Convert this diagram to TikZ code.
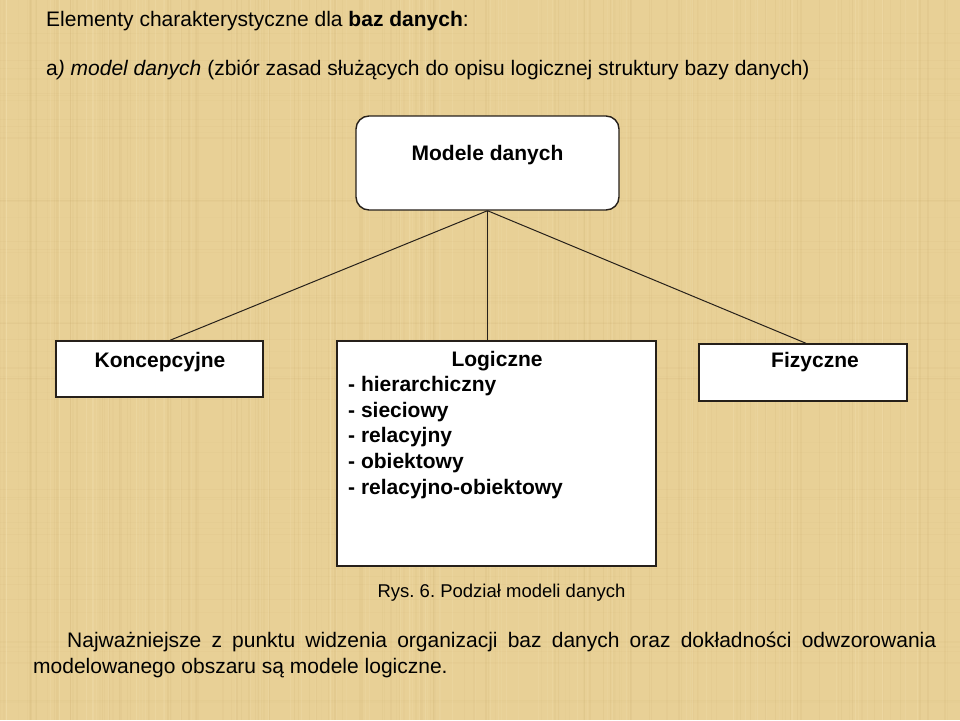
\documentclass[tikz,border=0pt]{standalone}
\usepackage{fontspec}
\setmainfont{Liberation Sans}
\usetikzlibrary{calc, positioning}
\frenchspacing

\definecolor{papyrus}{RGB}{232,208,150}
\definecolor{papyrusdark}{RGB}{198,168,104}
\definecolor{papyruslight}{RGB}{246,230,186}
\definecolor{edge}{RGB}{38,32,26}

\tikzset{
  box/.style={draw=edge, line width=1.4pt, fill=white, inner sep=0pt},
  link/.style={draw=edge, line width=1pt},
  txt/.style={inner sep=0pt, font=\fontsize{21pt}{25.6pt}\selectfont},
  bold/.style={inner sep=0pt, font=\fontsize{21pt}{25.6pt}\selectfont\bfseries},
}

\begin{document}
\begin{tikzpicture}[x=1pt, y=-1pt]
\fill[papyrus] (0,0) rectangle (960,720);
\useasboundingbox (0,0) rectangle (960,720);

% papyrus fibres
\pgfmathsetseed{7}
\foreach \i in {1,...,140} {
  \pgfmathsetmacro{\xx}{rnd*960}
  \pgfmathsetmacro{\op}{0.04+rnd*0.10}
  \draw[papyrusdark, opacity=\op, line width=1.3pt] (\xx,0) -- (\xx,720);
}
\foreach \i in {1,...,60} {
  \pgfmathsetmacro{\yy}{rnd*720}
  \pgfmathsetmacro{\op}{0.03+rnd*0.06}
  \draw[papyrusdark, opacity=\op, line width=1.2pt] (0,\yy) -- (960,\yy);
}
\foreach \i in {1,...,80} {
  \pgfmathsetmacro{\xx}{rnd*960}
  \pgfmathsetmacro{\op}{0.10+rnd*0.20}
  \draw[papyruslight, opacity=\op, line width=1pt] (\xx,0) -- (\xx,720);
}

% header
\node[txt, anchor=base west] (title) at (46,26) {Elementy charakterystyczne dla \textbf{baz danych}:};
\node[txt, anchor=base west] (sub) at (46,75) {a\textit{) model danych} (zbiór zasad służących do opisu logicznej struktury bazy danych)};

% boxes
\node[box, rounded corners=13pt, minimum width=263pt, minimum height=94pt] (modele) at (487.5,163) {};
\node[bold, anchor=base] (modeleT) at (487.5,160.5) {Modele danych};

\node[box, minimum width=207pt, minimum height=56pt] (konc) at (159.5,369) {};
\node[bold, anchor=base] (koncT) at (160,367.5) {Koncepcyjne};

\node[box, minimum width=319pt, minimum height=225pt] (logic) at (496.5,453.5) {};
\node[bold, anchor=base] (logicT) at (497,366) {Logiczne};
\foreach \item [count=\k] in {hierarchiczny, sieciowy, relacyjny, obiektowy, relacyjno-obiektowy}
  \node[bold, anchor=base west] (item\k) at (348,366+25.6*\k) {- \item};

\node[box, minimum width=208pt, minimum height=57pt] (fiz) at (803,372.5) {};
\node[bold, anchor=base] (fizT) at (815,367.5) {Fizyczne};

% connectors
\draw[link] (modele.south) -- ($(konc.north)+(10.5,0)$);
\draw[link] (modele.south) -- (modele.south |- logic.north);
\draw[link] (modele.south) -- ($(fiz.north)+(3,0)$);

% caption and note
\node[inner sep=0pt, font=\fontsize{18.5pt}{22pt}\selectfont, anchor=base] (caption) at (501.5,597) {Rys. 6. Podział modeli danych};
\node[txt, anchor=base west] (note1) at (67,647) {\makebox[869pt][s]{Najważniejsze z punktu widzenia organizacji baz danych oraz dokładności odwzorowania}};
\node[txt, anchor=base west] (note2) at (33,673) {modelowanego obszaru są modele logiczne.};
\end{tikzpicture}
\end{document}
